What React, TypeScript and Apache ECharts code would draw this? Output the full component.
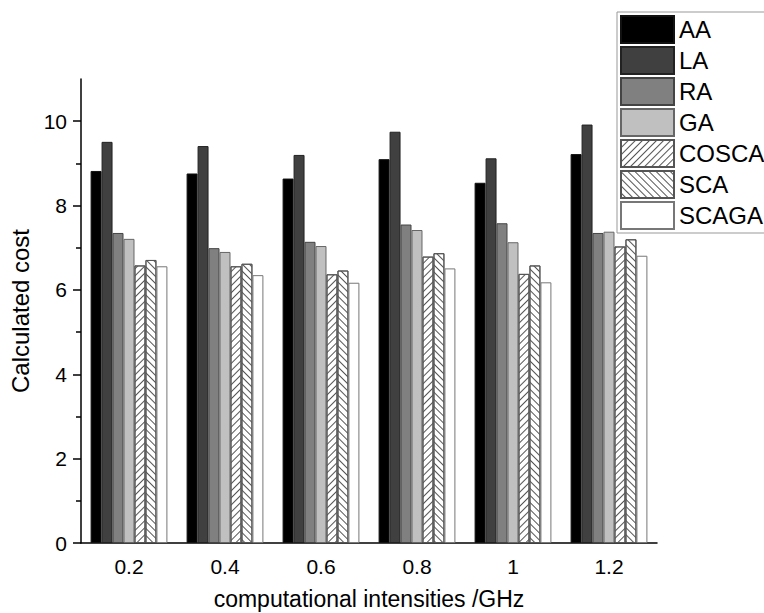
import React, { useEffect, useRef } from "react";
import * as echarts from "echarts";

const categories = ["0.2", "0.4", "0.6", "0.8", "1", "1.2"];
const seriesNames = ["AA", "LA", "RA", "GA", "COSCA", "SCA", "SCAGA"];
const AA = [8.82, 8.76, 8.64, 9.1, 8.54, 9.22];
const LA = [9.51, 9.41, 9.2, 9.75, 9.12, 9.92];
const RA = [7.35, 6.99, 7.14, 7.55, 7.58, 7.35];
const GA = [7.21, 6.9, 7.04, 7.42, 7.13, 7.38];
const COSCA = [6.58, 6.56, 6.37, 6.79, 6.38, 7.03];
const SCA = [6.71, 6.62, 6.46, 6.87, 6.58, 7.2];
const SCAGA = [6.56, 6.35, 6.17, 6.51, 6.18, 6.81];
const yTickValues = [0, 2, 4, 6, 8, 10];
const yMinorValues = [1, 3, 5, 7, 9];
const yMax = 11;

const FONT = "'Liberation Sans', Arial, sans-serif";

export default function App() {
  const ref = useRef<HTMLDivElement>(null);
  useEffect(() => {
    document.body.style.margin = "0";
    const chart = echarts.init(ref.current!, null, { renderer: "svg" });
    const values = [AA, LA, RA, GA, COSCA, SCA, SCAGA];
    const fills = ["#000000", "#404040", "#808080", "#c0c0c0", "#ffffff", "#ffffff", "#ffffff"];
    const borders = ["#111111", "#222222", "#444444", "#666666", "#555555", "#555555", "#777777"];
    const decals: any[] = [
      null,
      null,
      null,
      null,
      { symbol: "rect", symbolSize: 1, dashArrayX: [1, 0], dashArrayY: [1, 4], rotation: -Math.PI / 4, color: "#555" },
      { symbol: "rect", symbolSize: 1, dashArrayX: [1, 0], dashArrayY: [1, 4], rotation: Math.PI / 4, color: "#555" },
      null,
    ];
    const series = seriesNames.map((name, i) => ({
      name,
      type: "bar",
      xAxisIndex: 0,
      yAxisIndex: 0,
      data: values[i],
      barGap: "0%",
      barCategoryGap: "20%",
      itemStyle: {
        color: fills[i],
        borderColor: borders[i],
        borderWidth: 1,
        ...(decals[i] ? { decal: decals[i] } : {}),
      },
    }));
    chart.setOption({
      animation: false,
      aria: { enabled: false, decal: { show: true } },
      textStyle: { fontFamily: FONT },
      grid: { left: 81, top: 79, right: 107, bottom: 70, outerBoundsMode: "none", containLabel: false },
      legend: {
        orient: "vertical",
        left: 617,
        top: 12,
        itemWidth: 53,
        itemHeight: 27,
        itemGap: 2,
        padding: [3, 3, 3, 3],
        borderColor: "#999",
        borderWidth: 1,
        icon: "rect",
        textStyle: { fontSize: 24, color: "#000", fontFamily: FONT, padding: [0, 0, 0, 0] },
        data: seriesNames,
      },
      xAxis: [
        {
          type: "category",
          data: categories,
          position: "bottom",
          name: "computational intensities /GHz",
          nameLocation: "middle",
          nameGap: 44,
          nameTextStyle: { fontSize: 23, color: "#000", fontFamily: FONT },
          axisLine: { lineStyle: { color: "#000", width: 1.5 } },
          axisTick: { alignWithLabel: true, length: 8, lineStyle: { color: "#000", width: 1.5 } },
          axisLabel: { fontSize: 21, color: "#000", margin: 13, fontFamily: FONT },
        },
        {
          type: "category",
          data: categories,
          position: "bottom",
          axisLine: { show: false },
          axisTick: { length: 5, lineStyle: { color: "#000", width: 1.5 } },
          axisLabel: { show: false },
        },
      ],
      yAxis: [
        {
          type: "value",
          min: 0,
          max: yMax,
          name: "Calculated cost",
          nameLocation: "middle",
          nameGap: 46,
          nameTextStyle: { fontSize: 24, color: "#000", fontFamily: FONT },
          splitLine: { show: false },
          axisLine: { show: true, lineStyle: { color: "#000", width: 1.5 } },
          axisTick: { show: true, length: 8, customValues: yTickValues, lineStyle: { color: "#000", width: 1.5 } },
          axisLabel: { fontSize: 21, color: "#000", margin: 14, fontFamily: FONT, customValues: yTickValues },
        },
        {
          type: "value",
          min: 0,
          max: yMax,
          position: "left",
          splitLine: { show: false },
          axisLine: { show: false },
          axisTick: { show: true, length: 5, customValues: yMinorValues, lineStyle: { color: "#000", width: 1.5 } },
          axisLabel: { show: false },
        },
      ],
      series,
    });
    return () => chart.dispose();
  }, []);
  return <div ref={ref} style={{ width: 764, height: 613 }} />;
}
